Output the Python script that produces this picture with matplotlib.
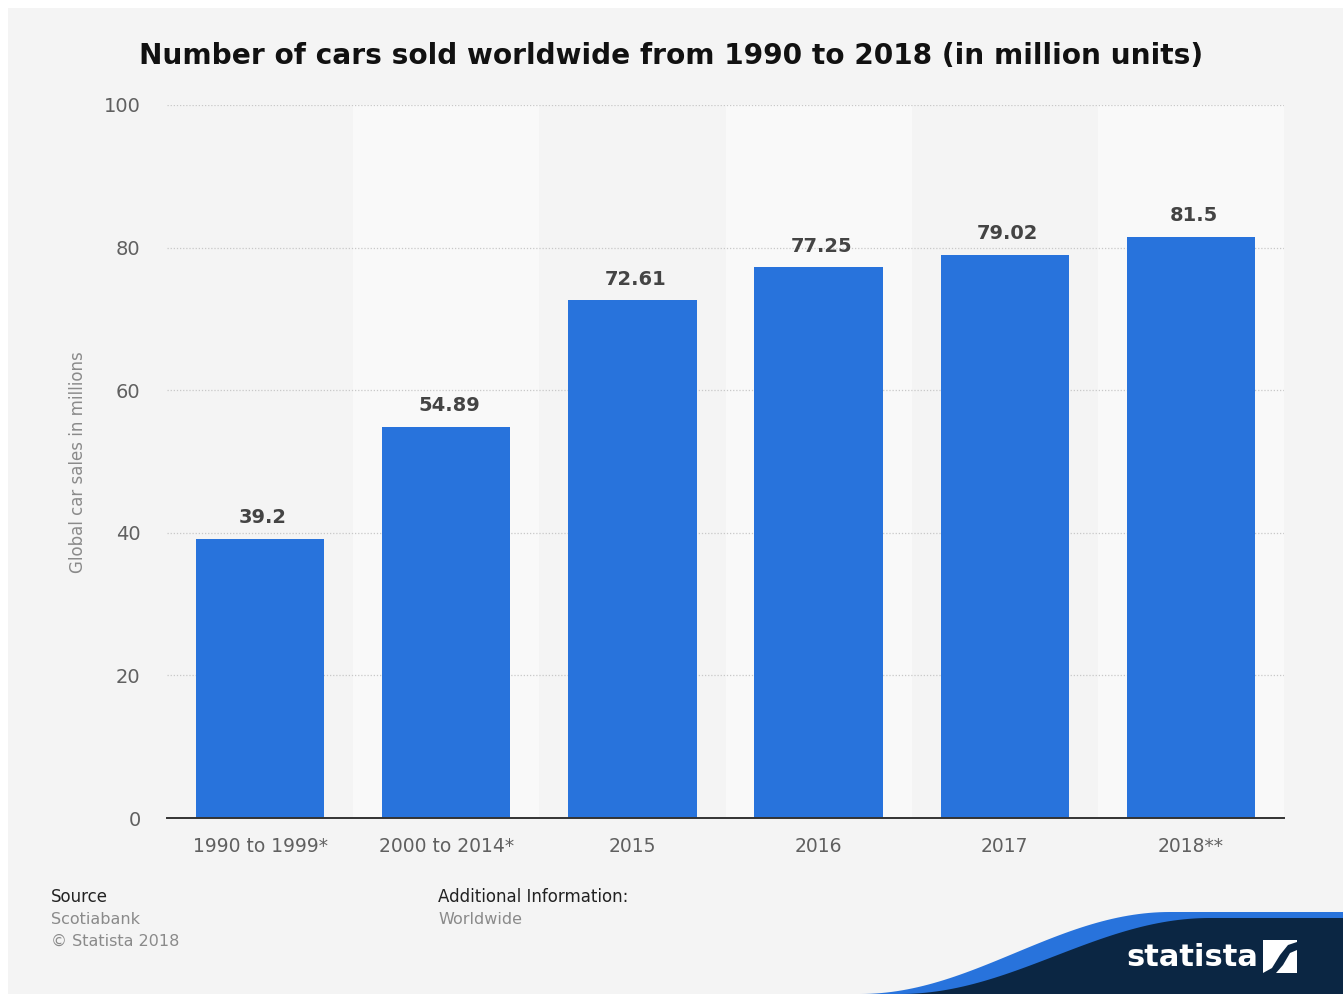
import numpy as np
import matplotlib.pyplot as plt
from matplotlib.patches import Rectangle, Polygon

# data
categories = ['1990 to 1999*', '2000 to 2014*', '2015', '2016', '2017', '2018**']
sales = [39.2, 54.89, 72.61, 77.25, 79.02, 81.5]
value_labels = ['39.2', '54.89', '72.61', '77.25', '79.02', '81.5']
y_ticks = [0, 20, 40, 60, 80, 100]

W, H = 1343, 994
fig = plt.figure(figsize=(W / 100, H / 100), dpi=100)
fig.patch.set_facecolor('white')

# grey card background
fig.patches.append(Rectangle((8 / W, 0), 1, 1 - 8 / H, transform=fig.transFigure,
                             facecolor='#f4f4f4', edgecolor='none', zorder=-5))

ax = fig.add_axes([167 / W, 1 - 818 / H, (1284 - 167) / W, (818 - 105) / H])
ax.set_facecolor('none')
ax.set_zorder(2)

x = np.arange(len(categories))
# alternating column shading
for i in x:
    if i % 2 == 1:
        ax.axvspan(i - 0.5, i + 0.5, color='#f9f9f9', zorder=0, lw=0)

ax.bar(x, sales, width=0.69, color='#2873dc', zorder=3)
for xi, v, lab in zip(x, sales, value_labels):
    ax.text(xi + 0.015, v + 1.6, lab, ha='center', va='bottom', fontsize=14,
            fontweight='bold', color='#444444')

ax.set_xlim(-0.5, len(categories) - 0.5)
ax.set_ylim(0, 100)
ax.set_yticks(y_ticks)
ax.yaxis.grid(True, linestyle=(0, (1, 1.5)), color='#c8c8c8', lw=0.9, zorder=1)
ax.set_axisbelow(True)
for s in ['top', 'right', 'left']:
    ax.spines[s].set_visible(False)
ax.spines['bottom'].set_color('#333333')
ax.spines['bottom'].set_linewidth(1.4)
ax.spines['bottom'].set_zorder(4)
ax.tick_params(axis='both', length=0, labelsize=13.5, labelcolor='#606060')
ax.tick_params(axis='y', pad=19)
ax.tick_params(axis='x', pad=14)
ax.set_xticks(x)
ax.set_xticklabels(categories)
for t in ax.get_yticklabels():
    t.set_fontsize(14)

fig.text(78 / W, 1 - 462 / H, 'Global car sales in millions', rotation=90,
         ha='center', va='center', fontsize=12, color='#8a8a8a')

fig.text(671 / W, 1 - 56 / H, 'Number of cars sold worldwide from 1990 to 2018 (in million units)',
         ha='center', va='center', fontsize=20.2, fontweight='bold', color='#111111')

# footer
fig.text(51 / W, 1 - 897 / H, 'Source', ha='left', va='center', fontsize=12, color='#222222')
fig.text(51 / W, 1 - 919 / H, 'Scotiabank', ha='left', va='center', fontsize=11.5, color='#8a8a8a')
fig.text(51 / W, 1 - 941 / H, '\u00a9 Statista 2018', ha='left', va='center', fontsize=11.5, color='#8a8a8a')
fig.text(438 / W, 1 - 897 / H, 'Additional Information:', ha='left', va='center', fontsize=12, color='#222222')
fig.text(438 / W, 1 - 919 / H, 'Worldwide', ha='left', va='center', fontsize=11.5, color='#8a8a8a')

# statista logo wave
t = np.linspace(0, 1, 60)
xs = 860 + (1170 - 860) * t
ys_blue = 994 - (994 - 912) * (0.5 - 0.5 * np.cos(np.pi * t))
ys_dark = 994 - (994 - 918) * (0.5 - 0.5 * np.cos(np.pi * t))
blue_pts = [(px / W, 1 - py / H) for px, py in zip(xs, ys_blue)] + [(1, 1 - 912 / H), (1, 0)]
dark_pts = [(px / W, 1 - py / H) for px, py in zip(xs + 40, ys_dark)] + [(1, 1 - 918 / H), (1, 0)]
fig.patches.append(Polygon(blue_pts, closed=True, transform=fig.transFigure,
                           facecolor='#2873dc', edgecolor='none', zorder=1))
fig.patches.append(Polygon(dark_pts, closed=True, transform=fig.transFigure,
                           facecolor='#0b2643', edgecolor='none', zorder=2))
fig.text(1192 / W, 1 - 957 / H, 'statista', ha='center', va='center', fontsize=22,
         fontweight='bold', color='white', zorder=5)
fig.patches.append(Rectangle((1263 / W, 1 - 973 / H), 34 / W, 33 / H, transform=fig.transFigure,
                             facecolor='white', edgecolor='none', zorder=5))
fig.patches.append(Polygon([(1263 / W, 1 - 973 / H), (1272 / W, 1 - 968 / H), (1280 / W, 1 - 955 / H),
                            (1288 / W, 1 - 945 / H), (1297 / W, 1 - 942 / H), (1297 / W, 1 - 950 / H),
                            (1290 / W, 1 - 953 / H), (1283 / W, 1 - 965 / H), (1276 / W, 1 - 973 / H)],
                           closed=True, transform=fig.transFigure,
                           facecolor='#0b2643', edgecolor='none', zorder=6))

fig.savefig('out.png', dpi=100, facecolor=fig.get_facecolor())
